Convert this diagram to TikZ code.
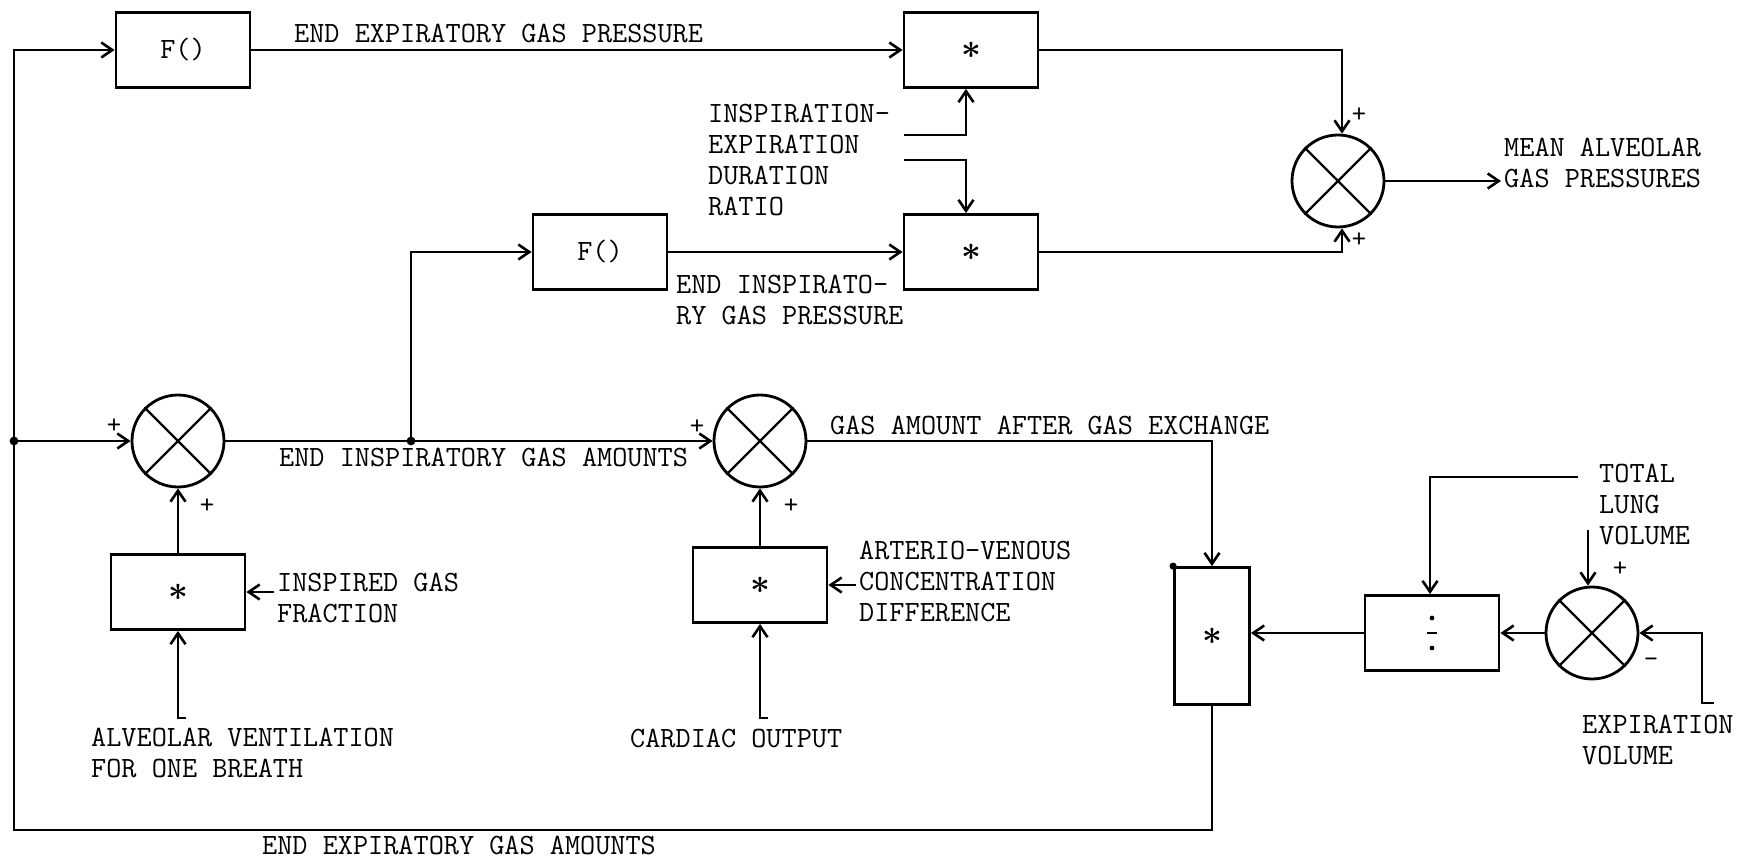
\documentclass[tikz,border=0pt]{standalone}
\usepackage{fontspec}
\usepackage{tikz}
\usetikzlibrary{arrows.meta}

\newcommand{\mulsym}{{\fontsize{19}{19}\selectfont\boldmath$\ast$}}

\tikzset{
  blk/.style={draw,line width=1.4pt,minimum width=67pt,minimum height=37.5pt,inner sep=0pt},
  tallblk/.style={blk,minimum width=37.5pt,minimum height=68.5pt},
  sumnode/.style={draw,circle,line width=1.4pt,minimum size=46pt,inner sep=0pt},
  txt/.style={align=left,inner sep=1pt,anchor=west},
  sgn/.style={font=\fontsize{14}{14}\selectfont\ttfamily,inner sep=0pt},
  wire/.style={line width=1.3pt,-{Straight Barb[length=5.5pt,width=7.5pt]}},
}

\begin{document}
\begin{tikzpicture}[x=0.5pt,y=-0.5pt,line width=1.2pt,
    font=\fontsize{14.7}{15.5}\selectfont\ttfamily]
  \useasboundingbox (0,0) rectangle (1740,861);
  % blocks
  \node[blk] (F1) at (183,50) {F()};
  \node[blk] (M1) at (971,50) {\mulsym};
  \node[blk] (F2) at (600,252) {F()};
  \node[blk] (M2) at (971,252) {\mulsym};
  \node[blk] (P1) at (178,592) {\mulsym};
  \node[blk] (P2) at (760,585) {\mulsym};
  \node[tallblk] (T) at (1212,636) {\mulsym};
  \node[blk] (D) at (1432,633) {};
  \foreach \dy in {-7.5pt,7.5pt}{\fill ([yshift=\dy]D.center) circle (1.2pt);}
  \draw ([xshift=-2.5pt]D.center) -- ([xshift=2.5pt]D.center);
  % summing junctions
  \foreach \n/\x/\y in {S1/178/441,S2/760/441,SM/1338/181,S3/1592/633}{
    \node[sumnode] (\n) at (\x,\y) {};
    \draw (\n.north east) -- (\n.south west) (\n.north west) -- (\n.south east);}
  % labels
  \node[txt] (eep) at (291,33) {END EXPIRATORY GAS PRESSURE};
  \node[txt] (ier) at (705,160) {INSPIRATION-\\EXPIRATION\\DURATION\\RATIO};
  \node[txt] (eip) at (673,300) {END INSPIRATO-\\RY GAS PRESSURE};
  \node[txt] (mag) at (1501,163) {MEAN ALVEOLAR\\GAS PRESSURES};
  \node[txt] (eia) at (276,457) {END INSPIRATORY GAS AMOUNTS};
  \node[txt] (gae) at (827,425) {GAS AMOUNT AFTER GAS EXCHANGE};
  \node[txt] (igf) at (274,598) {INSPIRED GAS\\FRACTION};
  \node[txt] (avd) at (856,581) {ARTERIO-VENOUS\\CONCENTRATION\\DIFFERENCE};
  \node[txt] (avb) at (88,753) {ALVEOLAR VENTILATION\\FOR ONE BREATH};
  \node[txt] (cao) at (627,738) {CARDIAC OUTPUT};
  \node[txt] (tlv) at (1596,504) {TOTAL\\LUNG\\VOLUME};
  \node[txt] (exv) at (1579,740) {EXPIRATION\\VOLUME};
  \node[txt] (eea) at (259,845) {END EXPIRATORY GAS AMOUNTS};
  \foreach \x/\y/\s [count=\i] in {114/426/+,697/427/+,207/506/+,791/506/+,
      1359/115/+,1359/240/+,1620/569/+,1651/663/-}{\node[sgn] (sg\i) at (\x,\y) {\s};}
  % connectors
  \coordinate (jl) at (14,441);
  \coordinate (bl) at (14,830);
  \coordinate (jm) at (411,441);
  \draw[wire] (T.south) |- (bl) |- (F1.west);
  \draw[wire] (jl) -- (S1.west);
  \draw[wire] (S1.east) -- (S2.west);
  \draw[wire] (jm) |- (F2.west);
  \foreach \c in {jl,jm}{\fill (\c) circle (2.2pt);}
  \draw[wire] (F1.east) -- (M1.west);
  \draw[wire] (F2.east) -- (M2.west);
  \draw[wire] (M1.east) -| ([xshift=2pt]SM.north);
  \draw[wire] (M2.east) -| ([xshift=2pt]SM.south);
  \draw[wire] (SM.east) -- (SM.east -| mag.west);
  \coordinate (ie1) at (904,135);
  \coordinate (ie2) at (904,160);
  \draw[wire] (ie1) -| ([xshift=-2.5pt]M1.south);
  \draw[wire] (ie2) -| ([xshift=-2.5pt]M2.north);
  \draw[wire] (P1.north) -- (S1.south);
  \draw[wire] (P2.north) -- (S2.south);
  \draw[wire] (igf.west |- P1.east) -- (P1.east);
  \draw[wire] (avd.west |- P2.east) -- (P2.east);
  \coordinate (av) at (178,718);
  \coordinate (co) at (760,718);
  \draw[wire] ([xshift=4pt]av) -- (av) -- (P1.south);
  \draw[wire] ([xshift=4pt]co) -- (co) -- (P2.south);
  \draw[wire] (S2.east) -| (T.north);
  \fill (T.north west) circle (1.8pt);
  \draw[wire] (D.west) -- (D.west -| T.east);
  \draw[wire] (S3.west) -- (D.east);
  \coordinate (tl) at (1578,477);
  \draw[wire] (tl) -| ([xshift=-1pt]D.north);
  \coordinate (lv) at (1588,530);
  \draw[wire] (lv) -- (lv |- S3.north);
  \coordinate (ev) at (1702,703);
  \draw[wire] ([xshift=6pt]ev) -- (ev) |- (S3.east);
\end{tikzpicture}
\end{document}
